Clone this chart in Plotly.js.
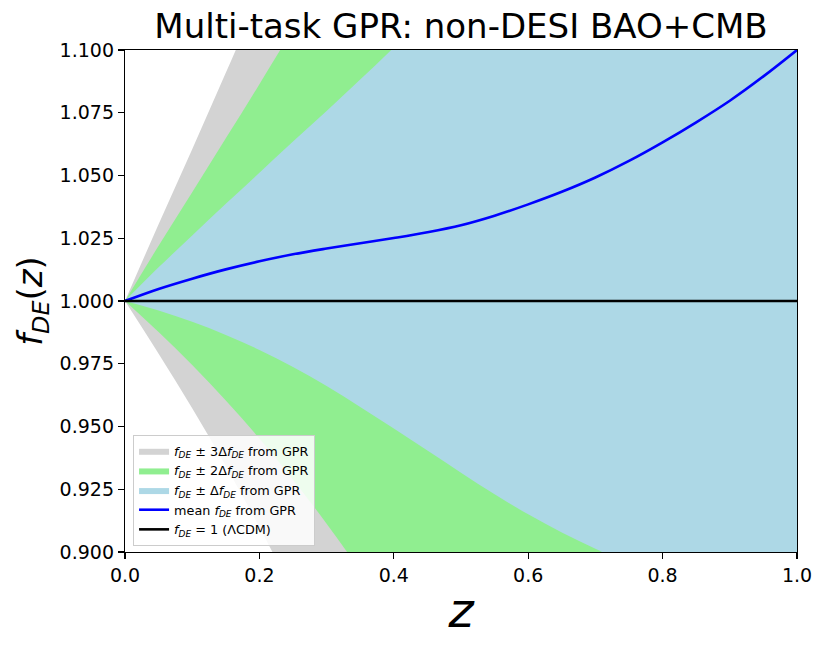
<!DOCTYPE html>
<html>
<head>
<meta charset="utf-8">
<script src="https://cdn.plot.ly/plotly-3.0.1.min.js"></script>
<style>
  html, body { margin: 0; padding: 0; background: #ffffff; }
  #chart { width: 826px; height: 651px; }
</style>
</head>
<body>
<div id="chart"></div>
<script>
// redshift grid
const z = [0.00, 0.05, 0.10, 0.15, 0.20, 0.25, 0.30, 0.35, 0.40, 0.45, 0.50,
           0.55, 0.60, 0.65, 0.70, 0.75, 0.80, 0.85, 0.90, 0.95, 1.00];
// GPR mean of f_DE(z)
const meanFDE = [1.0000, 1.0048, 1.0089, 1.0126, 1.0158, 1.0186, 1.0209, 1.0230, 1.0251, 1.0274, 1.0302,
                 1.0340, 1.0385, 1.0435, 1.0492, 1.0558, 1.0632, 1.0712, 1.0798, 1.0895, 1.1000];
// GPR 1-sigma uncertainty Delta f_DE(z)
const sigmaFDE = [0.0000, 0.0086, 0.0172, 0.0261, 0.0353, 0.0449, 0.0548, 0.0652, 0.0759, 0.0870, 0.0986,
                  0.1110, 0.1235, 0.1357, 0.1479, 0.1610, 0.1740, 0.1870, 0.2000, 0.2130, 0.2260];
const lcdmValue = 1.0;

const bandLevels = [3, 2, 1];
const bandColors = ['#d3d3d3', '#90ee90', '#add8e6'];
const bandNames = [
  '<i>f</i><sub><i>DE</i></sub> ± 3Δ<i>f</i><sub><i>DE</i></sub> from GPR',
  '<i>f</i><sub><i>DE</i></sub> ± 2Δ<i>f</i><sub><i>DE</i></sub> from GPR',
  '<i>f</i><sub><i>DE</i></sub> ± Δ<i>f</i><sub><i>DE</i></sub> from GPR'
];

const traces = [];
bandLevels.forEach((k, i) => {
  const upper = z.map((_, j) => meanFDE[j] + k * sigmaFDE[j]);
  const lower = z.map((_, j) => meanFDE[j] - k * sigmaFDE[j]);
  traces.push({
    x: z, y: lower, type: 'scatter', mode: 'lines',
    line: { width: 0, color: bandColors[i], shape: 'spline', smoothing: 1 },
    showlegend: false, hoverinfo: 'skip'
  });
  traces.push({
    x: z, y: upper, type: 'scatter', mode: 'lines',
    fill: 'tonexty', fillcolor: bandColors[i],
    line: { width: 0, color: bandColors[i], shape: 'spline', smoothing: 1 },
    name: bandNames[i], hoverinfo: 'skip'
  });
});
traces.push({
  x: z, y: meanFDE, type: 'scatter', mode: 'lines',
  line: { color: '#0000ff', width: 2.6, shape: 'spline', smoothing: 1 },
  name: 'mean <i>f</i><sub><i>DE</i></sub> from GPR'
});
traces.push({
  x: [z[0], z[z.length - 1]], y: [lcdmValue, lcdmValue], type: 'scatter', mode: 'lines',
  line: { color: '#000000', width: 2.6 },
  name: '<i>f</i><sub><i>DE</i></sub> = 1 (ΛCDM)'
});

const axisCommon = {
  showgrid: false, zeroline: false,
  showline: true, linecolor: '#000000', linewidth: 1.2, mirror: true,
  ticks: 'outside', ticklen: 6, tickwidth: 1.2, tickcolor: '#000000',
  tickfont: { family: 'DejaVu Sans', size: 19, color: '#000000' }
};

const layout = {
  width: 826, height: 651,
  paper_bgcolor: '#ffffff', plot_bgcolor: '#ffffff',
  margin: { l: 125, r: 29, t: 50, b: 99 },
  font: { family: 'DejaVu Sans', color: '#000000' },
  title: {
    text: 'Multi-task GPR: non-DESI BAO+CMB',
    font: { family: 'DejaVu Sans', size: 34, color: '#000000' },
    x: 0.5, xref: 'paper', xanchor: 'center',
    y: 0.96, yref: 'container', yanchor: 'middle'
  },
  xaxis: Object.assign({}, axisCommon, {
    range: [0, 1], tickvals: [0, 0.2, 0.4, 0.6, 0.8, 1.0], tickformat: '.1f',
    title: { text: '<i>z</i>', font: { family: 'DejaVu Sans', size: 48 }, standoff: 8 }
  }),
  yaxis: Object.assign({}, axisCommon, {
    range: [0.9, 1.1], dtick: 0.025, tick0: 0.9, tickformat: '.3f',
    title: { text: '<i>f</i><sub><i>DE</i></sub>(<i>z</i>)', font: { family: 'DejaVu Sans', size: 34 }, standoff: 6 }
  }),
  showlegend: true,
  legend: {
    x: 0.012, y: 0.012, xanchor: 'left', yanchor: 'bottom',
    bgcolor: 'rgba(255,255,255,0.85)', bordercolor: '#cccccc', borderwidth: 1,
    font: { family: 'DejaVu Sans', size: 12.8, color: '#000000' },
    traceorder: 'normal'
  }
};

Plotly.newPlot('chart', traces, layout, { displayModeBar: false, staticPlot: true });
</script>
</body>
</html>
